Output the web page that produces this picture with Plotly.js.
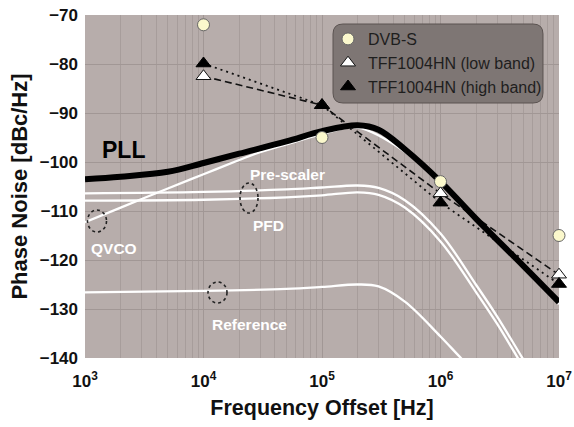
<!DOCTYPE html>
<html>
<head>
<meta charset="utf-8">
<script src="https://cdn.plot.ly/plotly-3.0.1.min.js"></script>
<style>html,body{margin:0;padding:0;background:#fff;} #chart{width:574px;height:427px;}</style>
</head>
<body>
<div id="chart"></div>
<script>
// ---- data ----
const freqPLL = [1e3, 2e3, 5e3, 1e4, 2e4, 5e4, 1e5, 2e5, 3e5, 5e5, 1e6, 2e6, 5e6, 1e7];
const pllNoise = [-103.5, -103.0, -102.0, -100.2, -98.3, -95.8, -93.7, -92.5, -93.4, -97.4, -104.0, -111.6, -121.2, -128.6];

const freqQVCO = [1e3, 2e3, 5e3, 1e4, 2e4, 3e4, 5e4, 1e5, 2e5, 5e5, 1e6, 1e7];
const qvcoNoise = [-112.3, -109.3, -105.4, -102.5, -99.6, -98.0, -96.4, -94.3, -93.0, -97.9, -104.5, -129.0];

const freqDiv = [1e3, 1e4, 5e4, 1e5, 2e5, 3e5, 5e5, 1e6, 2e6, 3e6, 5e6, 7e6];
const prescalerNoise = [-106.4, -106.1, -105.6, -105.2, -104.8, -105.3, -107.8, -114.6, -125.1, -131.5, -140.3, -146.0];
const pfdNoise = [-107.9, -107.7, -107.2, -106.8, -106.2, -106.7, -109.3, -116.2, -126.6, -133.0, -141.8, -147.0];

const freqRef = [1e3, 1e4, 5e4, 1e5, 2e5, 3e5, 5e5, 1e6, 1.5e6, 2e6];
const referenceNoise = [-126.6, -126.3, -125.9, -125.5, -125.0, -125.4, -128.5, -135.6, -140.1, -143.0];

const freqMeas = [1e4, 1e5, 1e6, 1e7];
const dvbs = [-72, -95, -104, -115];
const lowBand = [-82.5, -88.4, -106.4, -123];
const highBand = [-79.9, -88.4, -108.3, -124.9];

const xTickVals = [1e3, 1e4, 1e5, 1e6, 1e7];
const xTickText = ['10<sup>3</sup>', '10<sup>4</sup>', '10<sup>5</sup>', '10<sup>6</sup>', '10<sup>7</sup>'];
const xMinorVals = [];
for (let d = 3; d < 7; d++) for (let m = 2; m <= 9; m++) xMinorVals.push(m * Math.pow(10, d));
const yTickVals = [-70, -80, -90, -100, -110, -120, -130, -140];

const legendNames = ['DVB-S', 'TFF1004HN (low band)', 'TFF1004HN (high band)'];
const curveLabels = ['PLL', 'Pre-scaler', 'PFD', 'QVCO', 'Reference'];

// ---- layout helpers (plot area pixels -> paper) ----
const L = 85, R = 559, T = 15, B = 358;
const px = x => (x - L) / (R - L);
const py = y => (B - y) / (B - T);

const FONT = 'Liberation Sans, Arial, Helvetica, sans-serif';

const traces = [
  {x: freqDiv, y: prescalerNoise, mode: 'lines', line: {color: '#ffffff', width: 2.3, shape: 'spline'}, showlegend: false, hoverinfo: 'skip'},
  {x: freqDiv, y: pfdNoise, mode: 'lines', line: {color: '#ffffff', width: 2.3, shape: 'spline'}, showlegend: false, hoverinfo: 'skip'},
  {x: freqRef, y: referenceNoise, mode: 'lines', line: {color: '#ffffff', width: 2.3, shape: 'spline'}, showlegend: false, hoverinfo: 'skip'},
  {x: freqQVCO, y: qvcoNoise, mode: 'lines', line: {color: '#ffffff', width: 2.3, shape: 'spline'}, showlegend: false, hoverinfo: 'skip'},
  {x: freqMeas, y: lowBand, mode: 'lines', line: {color: '#111111', width: 1.6, dash: '7px,4px'}, showlegend: false, hoverinfo: 'skip'},
  {x: freqMeas, y: highBand, mode: 'lines', line: {color: '#111111', width: 1.8, dash: '2px,4px'}, showlegend: false, hoverinfo: 'skip'},
  {x: freqPLL, y: pllNoise, mode: 'lines', line: {color: '#000000', width: 6, shape: 'spline'}, showlegend: false, hoverinfo: 'skip'},
  {x: freqMeas, y: dvbs, mode: 'markers', name: legendNames[0], legendgroup: 'a', cliponaxis: false,
   marker: {symbol: 'circle', size: 12, color: '#fbf8cc', line: {color: '#666', width: 1}}},
  {x: freqMeas, y: lowBand, mode: 'markers', name: legendNames[1], legendgroup: 'b', cliponaxis: false,
   marker: {symbol: 'triangle-up', size: 13, color: '#ffffff', line: {color: '#111', width: 1}}},
  {x: freqMeas, y: highBand, mode: 'markers', name: legendNames[2], legendgroup: 'c', cliponaxis: false,
   marker: {symbol: 'triangle-up', size: 13, color: '#000000', line: {color: '#000', width: 1}}}
];

function roundRect(x0, y0, x1, y1, r) {
  const X = v => px(v).toFixed(5), Y = v => py(v).toFixed(5);
  return 'M' + X(x0 + r) + ',' + Y(y0) +
    ' L' + X(x1 - r) + ',' + Y(y0) + ' Q' + X(x1) + ',' + Y(y0) + ' ' + X(x1) + ',' + Y(y0 + r) +
    ' L' + X(x1) + ',' + Y(y1 - r) + ' Q' + X(x1) + ',' + Y(y1) + ' ' + X(x1 - r) + ',' + Y(y1) +
    ' L' + X(x0 + r) + ',' + Y(y1) + ' Q' + X(x0) + ',' + Y(y1) + ' ' + X(x0) + ',' + Y(y1 - r) +
    ' L' + X(x0) + ',' + Y(y0 + r) + ' Q' + X(x0) + ',' + Y(y0) + ' ' + X(x0 + r) + ',' + Y(y0) + ' Z';
}

function ellipse(x0, y0, x1, y1) {
  return {type: 'circle', xref: 'paper', yref: 'paper', x0: px(x0), x1: px(x1), y0: py(y1), y1: py(y0),
    line: {color: '#222', width: 1.6, dash: 'dot'}, layer: 'above'};
}

const shapes = [
  {type: 'path', xref: 'paper', yref: 'paper', path: roundRect(333, 24, 543, 103, 10),
   fillcolor: '#7e7674', line: {color: '#5b5351', width: 1}, layer: 'above'},
  ellipse(87.5, 210, 106.5, 232),
  ellipse(240, 183, 258, 213),
  ellipse(208, 282, 227, 303)
];

function label(text, x, y, size, color) {
  return {text: text, xref: 'paper', yref: 'paper', x: px(x), y: py(y), xanchor: 'center', yanchor: 'middle',
    showarrow: false, font: {family: FONT, size: size, color: color, weight: 'bold'}};
}

const annotations = [
  label(curveLabels[0], 123.5, 150, 23, '#000'),
  label(curveLabels[1], 287, 174, 15.5, '#fff'),
  label(curveLabels[2], 268, 225, 15.5, '#fff'),
  label(curveLabels[3], 114, 249, 15.5, '#fff'),
  label(curveLabels[4], 249, 324, 15.5, '#fff')
];

const layout = {
  width: 574, height: 427,
  margin: {l: L, r: 574 - R, t: T, b: 427 - B, pad: 0},
  paper_bgcolor: '#ffffff',
  plot_bgcolor: '#b7adab',
  font: {family: FONT, color: '#111'},
  showlegend: true,
  legend: {x: px(328), y: py(22), xanchor: 'left', yanchor: 'top', bgcolor: 'rgba(0,0,0,0)', borderwidth: 0,
    font: {family: FONT, size: 16, color: '#1e1e1e'}, tracegroupgap: 0, traceorder: 'grouped'},
  xaxis: {
    type: 'log', range: [3, 7], tickvals: xTickVals, ticktext: xTickText, ticks: '',
    showgrid: true, gridcolor: '#a19795', gridwidth: 1,
    minor: {tickvals: xMinorVals, showgrid: true, gridcolor: '#a79d9b', gridwidth: 1},
    zeroline: false, showline: false,
    tickfont: {family: FONT, size: 17, color: '#111', weight: 'bold'}, ticklabelstandoff: 11,
    title: {text: 'Frequency Offset [Hz]', font: {family: FONT, size: 21.5, color: '#111', weight: 'bold'}, standoff: 9}
  },
  yaxis: {
    range: [-140, -70], tickvals: yTickVals, ticks: '',
    showgrid: true, gridcolor: '#a19795', gridwidth: 1, zeroline: false, showline: false,
    tickfont: {family: FONT, size: 17, color: '#111', weight: 'bold'}, ticklabelstandoff: 6,
    title: {text: 'Phase Noise [dBc/Hz]', font: {family: FONT, size: 22, color: '#111', weight: 'bold'}, standoff: 6}
  },
  shapes: shapes,
  annotations: annotations
};

Plotly.newPlot('chart', traces, layout, {displayModeBar: false, staticPlot: true});
</script>
</body>
</html>
